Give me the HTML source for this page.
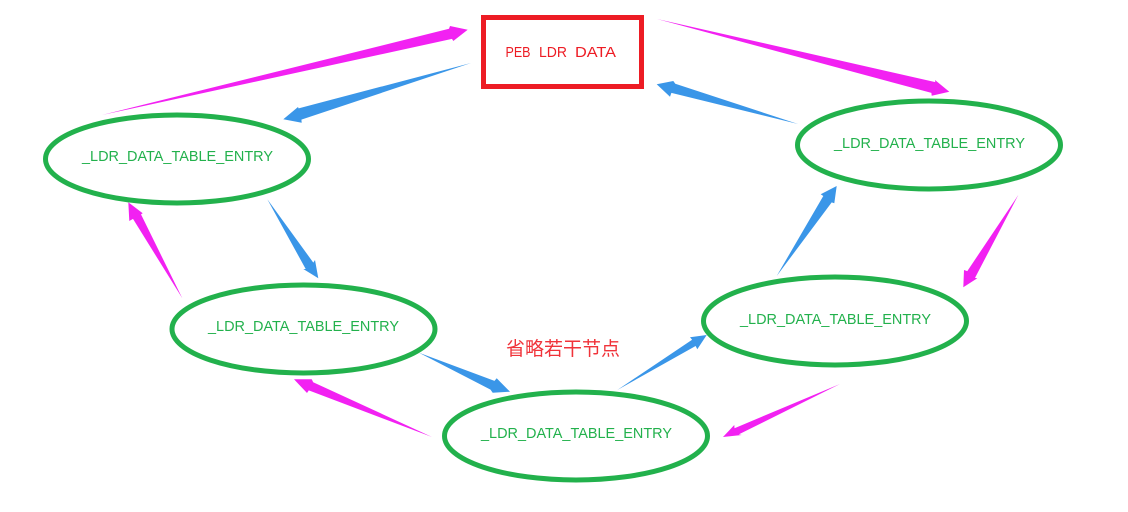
<!DOCTYPE html>
<html>
<head>
<meta charset="utf-8">
<style>
html,body{margin:0;padding:0;background:#fff;}
svg{display:block;}
text{font-family:"Liberation Sans","Noto Sans CJK SC",sans-serif;}
</style>
</head>
<body>
<svg width="1128" height="512" viewBox="0 0 1128 512" xmlns="http://www.w3.org/2000/svg">
<rect width="1128" height="512" fill="#fff"/>
<rect x="483.500" y="17.500" width="158" height="69" fill="none" stroke="#ed1c24" stroke-width="5"/>
<g font-size="15" fill="#ed1c24">
<text x="505.500" y="57" textLength="25" lengthAdjust="spacingAndGlyphs">PEB</text>
<text x="539" y="57" textLength="28" lengthAdjust="spacingAndGlyphs">LDR</text>
<text x="575" y="57" textLength="41" lengthAdjust="spacingAndGlyphs">DATA</text>
</g>

<g fill="none" stroke="#22b14c" stroke-width="5">
<ellipse cx="177" cy="159" rx="131.500" ry="44"/>
<ellipse cx="303.500" cy="329" rx="131.500" ry="44"/>
<ellipse cx="576" cy="436" rx="131.500" ry="44"/>
<ellipse cx="835" cy="321" rx="131.500" ry="44"/>
<ellipse cx="929" cy="145" rx="131.500" ry="44"/>
</g>
<g font-size="15" fill="#22b14c">
<text x="82" y="161" textLength="191" lengthAdjust="spacingAndGlyphs">_LDR_DATA_TABLE_ENTRY</text>
<text x="208" y="331" textLength="191" lengthAdjust="spacingAndGlyphs">_LDR_DATA_TABLE_ENTRY</text>
<text x="481" y="438" textLength="191" lengthAdjust="spacingAndGlyphs">_LDR_DATA_TABLE_ENTRY</text>
<text x="740" y="324" textLength="191" lengthAdjust="spacingAndGlyphs">_LDR_DATA_TABLE_ENTRY</text>
<text x="834" y="148" textLength="191" lengthAdjust="spacingAndGlyphs">_LDR_DATA_TABLE_ENTRY</text>
</g>
<text x="506" y="355" font-size="19" fill="#f0333a" textLength="114" lengthAdjust="spacingAndGlyphs">省略若干节点</text>

<g fill="#f221f2">
<polygon points="102,115 449,28.800 450,26 467.700,29.700 453.300,41 452,38.900"/>
<polygon points="657,19 935.300,82.100 935,80 949.300,91.700 931.700,95.700 931.400,92.900"/>
<polygon points="1018.300,195 967.300,271.100 964,270 963.300,287.300 977.300,278.300 975,277.900"/>
<polygon points="840,384 734.500,428.200 734.300,425 723,437 741.700,435 738.800,434.400"/>
<polygon points="432,437 313.200,382.200 311.700,379.300 294,379.300 307,393 308.800,390.400"/>
<polygon points="182.300,298.300 141,214.400 142.700,213.300 128.300,202.300 129.300,221 133,218.900"/>
</g>
<g fill="#3a96e8">
<polygon points="471,63 298.600,108.400 298,107 283.300,119.300 301.700,122.700 301.400,119.600"/>
<polygon points="267.300,199.300 313.300,262.600 315,260 318.300,278.300 303.300,269 305.700,269"/>
<polygon points="419,352.700 494.500,380.900 496.700,378.300 510,391.700 492.700,392.700 490.500,389.600"/>
<polygon points="617.300,390 692.100,339.700 690,337.300 706.700,335 697.300,349.300 695.600,346"/>
<polygon points="776.700,276 823.300,196 820.700,194.300 836.700,186 834.300,203.300 831.700,202.400"/>
<polygon points="798,124 675.300,83.800 673.300,81 656.700,84.300 670,96.700 671.400,92.900"/>
</g>
</svg>
</body>
</html>
